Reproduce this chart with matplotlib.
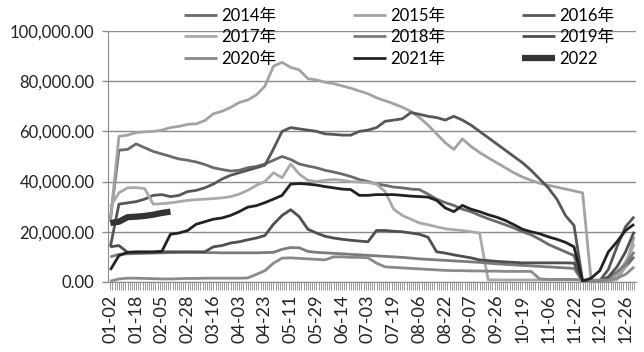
import numpy as np
import matplotlib
matplotlib.use("Agg")
import matplotlib.pyplot as plt
from matplotlib.ticker import FuncFormatter

plt.rcParams['font.family'] = ['Lato', 'Noto Sans CJK SC', 'DejaVu Sans']

# ---- categories (trading days) ----
n_days = 245
tick_labels = ["01-02", "01-18", "02-05", "02-28", "03-16", "04-03", "04-23",
               "05-11", "05-29", "06-14", "07-03", "07-19", "08-06", "08-22",
               "09-07", "09-26", "10-19", "11-06", "11-22", "12-10", "12-26"]
label_step = 12
sample_step = 4          # values read every 4th trading day

# ---- series values ----
y2014 = [25000, 52500, 52800, 55000, 53500, 52000, 51000, 50000, 49000, 48500,
         47800, 46800, 45500, 44800, 44200, 44500, 45500, 46000, 47000, 48500,
         50000, 48800, 47000, 46200, 45500, 44500, 43800, 43000, 42000, 40800,
         40000, 39000, 38500, 37800, 37500, 37000, 36800, 35000, 33000, 31600,
         30500, 29000, 28000, 26500, 25200, 24000, 22800, 21500, 20000, 18800,
         17000, 15000, 13500, 12000, 10500, 500, 300, 300, 1000, 3000,
         6000, 10000]
y2015 = [24000, 58000, 58500, 59500, 59800, 60000, 60500, 61500, 62000, 62800,
         63000, 64300, 67000, 68000, 69500, 71500, 72500, 74500, 78000, 86000,
         87500, 85500, 84500, 81000, 80500, 79600, 79000, 78100, 77200, 76100,
         75000, 73400, 72200, 71000, 69600, 68000, 65500, 62500, 59000, 55500,
         52800, 57000, 54000, 51600, 49500, 47500, 45500, 43500, 41800, 40500,
         39300, 38500, 37800, 37000, 36300, 35500, 300, 300, 300, 1000,
         6000, 18000]
y2016 = [14000, 31000, 31500, 32000, 33000, 34500, 34800, 34000, 34500, 36000,
         36500, 37500, 39000, 41000, 42500, 43500, 44500, 45500, 46500, 53000,
         60000, 61500, 61000, 60500, 60000, 59000, 58800, 58500, 58500, 60000,
         60500, 61500, 64000, 64500, 65000, 67500, 66800, 66000, 65500, 64500,
         66000, 64500, 62500, 60000, 57500, 55000, 52500, 50000, 47500, 44500,
         41000, 37500, 33000, 26500, 22500, 500, 300, 500, 5000, 14000,
         22000, 26000]
y2017 = [30000, 35500, 37500, 37600, 37200, 31000, 31200, 31500, 32000, 32500,
         32800, 33000, 33200, 33500, 34000, 35000, 36500, 38500, 40000, 43500,
         41500, 47000, 43000, 40500, 40000, 40500, 40800, 40500, 40000, 39800,
         39600, 39000, 36000, 29000, 26500, 25000, 23500, 22800, 22000, 21200,
         20800, 20500, 20000, 19500, 800, 800, 800, 800, 800, 800,
         800, 800, 800, 800, 800, 800, 800, 800, 1000, 3000,
         8000, 15000]
y2018 = [10000, 11000, 11200, 11300, 11400, 11500, 11600, 11700, 11800, 11800,
         11800, 11700, 11700, 11600, 11600, 11600, 11600, 11600, 11700, 11800,
         13000, 13700, 13600, 12200, 11800, 11600, 11400, 11200, 11000, 10800,
         10600, 10400, 10200, 10000, 9800, 9500, 9200, 9000, 8800, 8600,
         8400, 8200, 8000, 7800, 7500, 7200, 7000, 6800, 6600, 6400,
         6200, 6000, 5800, 5600, 5400, 300, 300, 500, 1500, 4000,
         7000, 12000]
y2019 = [14000, 14500, 11800, 11800, 11800, 11800, 12000, 12000, 12000, 12000,
         12000, 12000, 14000, 14500, 15500, 16000, 16800, 17500, 18500, 23000,
         26500, 28800, 26000, 21000, 19500, 18200, 17500, 17000, 16600, 16300,
         16000, 20500, 20500, 20200, 20000, 19500, 19000, 17800, 12000, 11500,
         10800, 10200, 9600, 8800, 8500, 8200, 8000, 7800, 7600, 7600,
         7600, 7600, 7600, 7600, 7500, 300, 200, 500, 2000, 6000,
         12000, 20000]
y2020 = [300, 1200, 1500, 1500, 1400, 1300, 1200, 1200, 1300, 1400,
         1400, 1500, 1500, 1500, 1500, 1500, 1600, 3000, 4500, 7500,
         9500, 9600, 9400, 9200, 9000, 8800, 10000, 10000, 9800, 9800,
         9600, 7500, 6000, 5800, 5600, 5400, 5200, 5000, 4800, 4600,
         4500, 4500, 4400, 4400, 4300, 4300, 4200, 4200, 4200, 4200,
         1200, 1000, 1000, 1000, 1000, 800, 600, 600, 800, 1500,
         3000, 6000]
y2021 = [4800, 10500, 11800, 12000, 12000, 12000, 12200, 19000, 19500, 20500,
         23000, 24000, 25000, 25500, 26500, 28000, 29800, 30400, 31600, 33000,
         34500, 39000, 39200, 39000, 38600, 38000, 37500, 37000, 36800, 34500,
         34500, 34800, 34800, 34800, 34500, 34200, 34000, 33800, 32500, 29500,
         28000, 30500, 29000, 28000, 26800, 25800, 24500, 22800, 21000, 20000,
         19200, 18000, 17000, 15800, 14000, 300, 1500, 4500, 12000, 16000,
         20500, 23000]
y2022 = [23500, 24000, 25800, 26000, 26300, 26800, 27500, 28000]

series = [
    ("2014年", y2014, "#6b6b6b", 2.0),
    ("2015年", y2015, "#a3a3a3", 2.0),
    ("2016年", y2016, "#575757", 2.0),
    ("2017年", y2017, "#a9a9a9", 2.0),
    ("2018年", y2018, "#7c7c7c", 2.0),
    ("2019年", y2019, "#4f4f4f", 2.0),
    ("2020年", y2020, "#8a8a8a", 2.0),
    ("2021年", y2021, "#222222", 2.0),
    ("2022", y2022, "#333333", 4.5),
]

fig = plt.figure(figsize=(6.44, 3.52), dpi=100)
ax = fig.add_axes([0.168, 0.199, 0.820, 0.713])

for name, vals, col, lw in series:
    x = np.arange(len(vals)) * sample_step
    ax.plot(x, vals, color=col, lw=lw, label=name, solid_joinstyle='round',
            solid_capstyle='butt', zorder=3)

ax.set_xlim(-1, n_days)
ax.set_ylim(0, 100000)
ax.set_yticks(np.arange(0, 100001, 20000))
ax.yaxis.set_major_formatter(FuncFormatter(lambda v, p: f"{v:,.2f}"))
ax.grid(axis='y', color='#8c8c8c', lw=1.0, zorder=1)
ax.set_axisbelow(True)

ax.set_xticks(np.arange(n_days))
labels = [''] * n_days
for j, t in enumerate(tick_labels):
    labels[j * label_step] = t
ax.set_xticklabels(labels, rotation=90, fontsize=13, color='#222222')
ax.tick_params(axis='x', length=6, width=0.7, color='#999999', pad=3)
ax.tick_params(axis='y', length=4, width=1, color='#8c8c8c', labelsize=12,
               labelcolor='#222222', pad=6)

for s in ['top', 'right']:
    ax.spines[s].set_visible(False)
ax.spines['left'].set_color('#8c8c8c')
ax.spines['bottom'].set_color('#8c8c8c')

# legend filled row by row (matplotlib fills columns first)
handles, lbls = ax.get_legend_handles_labels()
ncol = 3
order = [r * ncol + c for c in range(ncol) for r in range(3)]
fig.legend([handles[i] for i in order], [lbls[i] for i in order],
           ncol=ncol, loc='upper left',
           bbox_to_anchor=(0.285, 0.978), frameon=False, fontsize=12,
           handlelength=2.0, handletextpad=0.25, columnspacing=4.6,
           labelspacing=0.33, borderpad=0, borderaxespad=0)

fig.savefig("out.png", dpi=100)
